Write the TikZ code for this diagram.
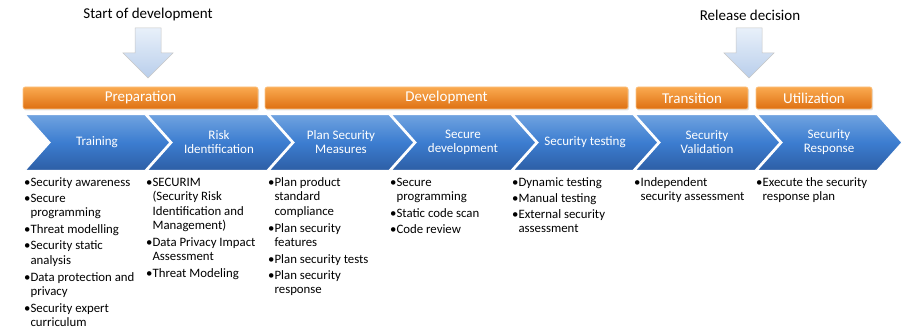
\documentclass[tikz,border=0pt]{standalone}
\usepackage{fontspec}
\setmainfont{Carlito}
\usetikzlibrary{shadows}
\definecolor{chevtop}{RGB}{112,163,224}
\definecolor{chevmid}{RGB}{60,125,208}
\definecolor{chevbot}{RGB}{45,94,165}
\definecolor{phasetop}{RGB}{250,170,80}
\definecolor{phasebot}{RGB}{222,112,18}
\definecolor{arrowtop}{RGB}{232,240,250}
\definecolor{arrowbot}{RGB}{185,206,235}
\newcommand{\itm}[1]{\textbullet\begin{tabular}[t]{@{}l@{}}#1\end{tabular}}
\tikzset{
  chevron/.style={top color=chevtop, bottom color=chevbot, middle color=chevmid, draw=white, line width=1.2pt},
  phase/.style={top color=phasetop, bottom color=phasebot, draw=phasetop!70!white, line width=0.6pt, rounded corners=2pt,
    drop shadow={opacity=0.25, shadow xshift=1pt, shadow yshift=-1.5pt}},
  phaselabel/.style={text=white, font=\fontsize{15}{17}\selectfont},
  steplabel/.style={text=white, align=center, font=\fontsize{13}{14}\selectfont, inner sep=0pt},
  steplist/.style={anchor=north west, align=left, inner sep=0pt, font=\fontsize{12.8}{14.4}\selectfont},
  gate/.style={top color=arrowtop, bottom color=arrowbot, draw=gray!45, line width=0.5pt},
  gatelabel/.style={font=\fontsize{15}{17}\selectfont}
}
\begin{document}
\begin{tikzpicture}[x=1pt,y=-1pt]
    \useasboundingbox (0,0) rectangle (903,331);

    % milestones
    \node[gatelabel] (startlbl) at (148,15) {Start of development};
    \node[gatelabel] (releaselbl) at (750,15) {Release decision};
    \foreach \gx in {148,749}
      \path[gate] (\gx-13,28) -- (\gx+13,28) -- (\gx+13,53) -- (\gx+25,53) -- (\gx,78)
        -- (\gx-25,53) -- (\gx-13,53) -- cycle;

    % phases
    \path[phase] (23,87) rectangle (258,109);
    \path[phase] (265,87) rectangle (628,109);
    \path[phase] (636,87) rectangle (748,109);
    \path[phase] (756,87) rectangle (872,109);
    \node[phaselabel] (prep) at (140.5,98) {Preparation};
    \node[phaselabel] (dev) at (446.5,98) {Development};
    \node[phaselabel] (trans) at (692,98) {Transition};
    \node[phaselabel] (util) at (814,98) {Utilization};

    % chevrons
    \foreach \i in {0,...,6}
      \path[chevron] (25+122*\i,114.5) -- (145+122*\i,114.5) -- (170+122*\i,142.5)
        -- (145+122*\i,170.5) -- (25+122*\i,170.5) -- (50+122*\i,142.5) -- cycle;

    \node[steplabel] (training) at (97,142) {Training};
    \node[steplabel] (risk) at (219,142) {Risk\\Identification};
    \node[steplabel] (plan) at (341,142) {Plan Security\\Measures};
    \node[steplabel] (secdev) at (463,142) {Secure\\development};
    \node[steplabel] (sectest) at (585,142) {Security testing};
    \node[steplabel] (secval) at (707,142) {Security\\Validation};
    \node[steplabel] (secresp) at (829,142) {Security\\Response};

    % activities
    \node[steplist] (trainlist) at (24,176) {\itm{Security awareness}\\[1.6pt]
      \itm{Secure\\programming}\\[1.6pt]
      \itm{Threat modelling}\\[1.6pt]
      \itm{Security static\\analysis}\\[1.6pt]
      \itm{Data protection and\\privacy}\\[1.6pt]
      \itm{Security expert\\curriculum}};
    \node[steplist] (risklist) at (146,176) {\itm{SECURIM\\(Security Risk\\Identification and\\Management)}\\[1.6pt]
      \itm{Data Privacy Impact\\Assessment}\\[1.6pt]
      \itm{Threat Modeling}};
    \node[steplist] (planlist) at (268,176) {\itm{Plan product\\standard\\compliance}\\[1.6pt]
      \itm{Plan security\\features}\\[1.6pt]
      \itm{Plan security tests}\\[1.6pt]
      \itm{Plan security\\response}};
    \node[steplist] (devlist) at (390,176) {\itm{Secure\\programming}\\[1.6pt]
      \itm{Static code scan}\\[1.6pt]
      \itm{Code review}};
    \node[steplist] (testlist) at (512,176) {\itm{Dynamic testing}\\[1.6pt]
      \itm{Manual testing}\\[1.6pt]
      \itm{External security\\assessment}};
    \node[steplist] (vallist) at (634,176) {\itm{Independent\\security assessment}};
    \node[steplist] (resplist) at (756,176) {\itm{Execute the security\\response plan}};
\end{tikzpicture}
\end{document}
